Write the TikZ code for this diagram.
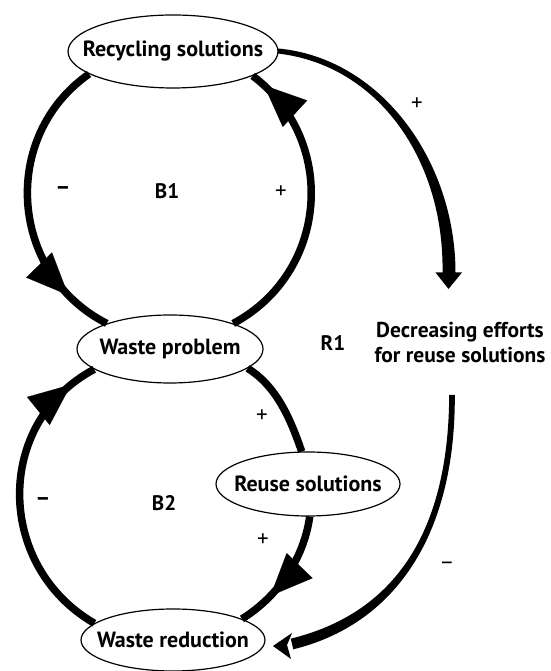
\documentclass[tikz,border=0pt]{standalone}
\usepackage{fontspec}
\setmainfont{PT Sans}
\usetikzlibrary{arrows.meta,shapes.geometric,decorations.markings,calc}
\begin{document}
\begin{tikzpicture}[x=1pt,y=1pt,
  var/.style={ellipse, draw, line width=1.2pt, inner sep=0pt,
    font=\fontsize{22}{26}\selectfont\bfseries},
  link/.style={line width=7.5pt},
  midtip/.style={postaction={decorate}, decoration={markings,
    mark=at position #1 with {\arrow{Triangle[length=42pt,width=36pt,line width=0.1pt]}}}},
  sign/.style={font=\fontsize{23}{26}\selectfont},
  loopname/.style={font=\fontsize{21}{24}\selectfont\bfseries},
]
\useasboundingbox (0,0) rectangle (550,671);

% variables
\node[var, minimum width=210pt, minimum height=73pt] (rec) at (173,619.5) {\makebox[0pt]{Recycling solutions}};
\node[var, minimum width=186pt, minimum height=68pt] (wp) at (170,322) {\makebox[0pt]{Waste problem}};
\node[var, minimum width=184pt, minimum height=64pt] (reuse) at (308,187) {\makebox[0pt]{Reuse solutions}};
\node[var, minimum width=184pt, minimum height=62pt] (wr) at (173,31) {\makebox[0pt]{Waste reduction}};
\node[align=center, inner sep=0pt, font=\fontsize{21.5}{25}\selectfont\bfseries] (dec) at (460,328)
  {Decreasing efforts\\for reuse solutions};

% loop B1
\draw[link, midtip=0.84] (rec.195) to[out=215, in=153, looseness=1.12] (wp.158);
\draw[link, midtip=0.95] (wp.22) to[out=28, in=-37, looseness=1.11] (rec.-17);

% loop B2
\draw[link, midtip=0.91] (wr.168) to[out=150, in=208, looseness=1.15] (wp.195);
\draw[link] (wp.-14) to[out=-31.5, in=109, looseness=0.88] (reuse.101);
\draw[link, midtip=0.71] (reuse.-87) to[out=-98, in=32, looseness=0.89] (wr.17);

% loop R1: tapered arrows through the delay variable
\coordinate (r1a) at (449,398);
\coordinate (r1b) at (452,276);
\coordinate (r1tip) at (273,25);
\fill ($(rec.east)+(-0.5,3)$) .. controls (381,613) and (455.5,510) .. ($(r1a)+(6.5,0)$)
  -- ($(r1a)+(-6.5,0)$) .. controls (444.5,510) and (379,606) .. ($(rec.east)+(-1,-2)$) -- cycle;
\fill ($(r1a)+(-13.5,0.5)$) -- ($(r1a)+(13,0.5)$) -- ($(r1a)+(-0.5,-16)$) -- cycle;
\fill ($(r1b)+(2.8,0)$) .. controls (455.5,131) and (391.3,45.7) .. (293.3,21.7)
  -- (290.7,32.3) .. controls (388.7,56.3) and (448.5,131) .. ($(r1b)+(-2.8,0)$) -- cycle;
\fill (r1tip) -- ($(r1tip)+(19,13)$) -- ($(r1tip)+(14,1)$) -- ($(r1tip)+(18,-13)$) -- cycle;

% polarities and loop names
\node[sign] (p1) at (417,567) {+};
\node[sign, font=\fontsize{23}{26}\selectfont\bfseries] (m1) at (63,480.5) {–};
\node[loopname] (b1) at (167,479.5) {B1};
\node[sign] (p2) at (281,478.5) {+};
\node[loopname] (r1) at (333,327.5) {R1};
\node[sign] (p3) at (262,255) {+};
\node[sign, font=\fontsize{23}{26}\selectfont\bfseries] (m2) at (43,169.5) {–};
\node[loopname] (b2) at (164,168) {B2};
\node[sign] (p4) at (263,131) {+};
\node[sign] (m3) at (447,105) {–};
\end{tikzpicture}
\end{document}
